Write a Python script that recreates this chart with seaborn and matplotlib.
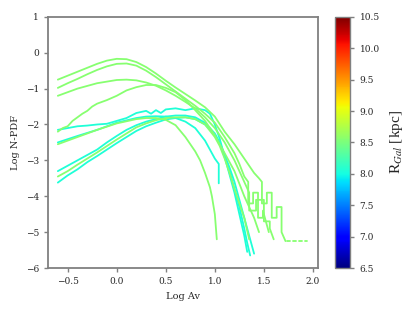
import numpy as np
import pandas as pd
import matplotlib
matplotlib.use("Agg")
import matplotlib.pyplot as plt
import seaborn as sns

# galactocentric radius of each cloud (colour)
r_gal = {
    "A": 8.55, "B": 8.55, "C": 8.55, "D": 8.55, "E": 8.05, "F": 8.55,
    "G": 8.05, "H": 8.05, "I": 8.55, "J": 8.05,
}

# log Av / log N-PDF
xA = [-0.6, -0.5, -0.4, -0.3, -0.2, -0.1, 0.0, 0.1, 0.2, 0.3, 0.4, 0.5, 0.6, 0.7, 0.8, 0.9, 1.0, 1.1, 1.2, 1.3, 1.4, 1.45, 1.48, 1.48, 1.53, 1.53, 1.58, 1.58, 1.63, 1.63, 1.68, 1.68, 1.72]
yA = [-0.75, -0.64, -0.53, -0.42, -0.31, -0.22, -0.17, -0.18, -0.26, -0.4, -0.58, -0.78, -0.97, -1.15, -1.33, -1.52, -1.78, -2.2, -2.55, -2.95, -3.35, -3.5, -3.6, -4.2, -4.2, -3.9, -3.9, -4.6, -4.6, -4.3, -4.3, -5.0, -5.25]
xB = [-0.6, -0.5, -0.4, -0.3, -0.2, -0.1, 0.0, 0.1, 0.2, 0.3, 0.4, 0.5, 0.6, 0.7, 0.8, 0.9, 1.0, 1.1, 1.2, 1.25, 1.3, 1.34, 1.34, 1.39, 1.39, 1.44, 1.44, 1.49, 1.49, 1.55]
yB = [-0.98, -0.85, -0.73, -0.6, -0.48, -0.38, -0.31, -0.3, -0.36, -0.5, -0.68, -0.88, -1.08, -1.28, -1.48, -1.7, -1.95, -2.35, -2.8, -3.1, -3.45, -3.6, -4.2, -4.2, -3.9, -3.9, -4.6, -4.6, -4.4, -5.0]
xC = [-0.6, -0.4, -0.2, 0.0, 0.1, 0.2, 0.3, 0.4, 0.5, 0.6, 0.7, 0.8, 0.9, 1.0, 1.1, 1.2, 1.3, 1.35, 1.35, 1.42, 1.42, 1.5, 1.5, 1.56, 1.56, 1.6]
yC = [-1.2, -1.0, -0.85, -0.76, -0.75, -0.77, -0.83, -0.92, -1.05, -1.2, -1.37, -1.55, -1.8, -2.1, -2.5, -3.0, -3.6, -3.9, -4.4, -4.4, -4.1, -4.1, -4.7, -4.7, -4.9, -5.2]
xD = [-0.6, -0.55, -0.5, -0.45, -0.4, -0.35, -0.3, -0.25, -0.2, -0.1, 0.0, 0.1, 0.2, 0.3, 0.4, 0.5, 0.6, 0.7, 0.8, 0.9, 1.0, 1.1, 1.2, 1.3, 1.4, 1.45]
yD = [-2.2, -2.1, -2.05, -1.9, -1.8, -1.7, -1.62, -1.5, -1.42, -1.32, -1.2, -1.05, -0.96, -0.9, -0.9, -0.98, -1.1, -1.32, -1.6, -1.9, -2.3, -2.8, -3.3, -4.0, -4.6, -5.0]
xE = [-0.6, -0.5, -0.4, -0.3, -0.2, -0.1, 0.0, 0.1, 0.2, 0.3, 0.35, 0.4, 0.45, 0.5, 0.6, 0.7, 0.8, 0.9, 0.95, 1.0, 1.05, 1.1, 1.15, 1.2, 1.25, 1.3, 1.33]
yE = [-2.15, -2.1, -2.05, -2.03, -2.0, -1.98, -1.9, -1.82, -1.68, -1.62, -1.7, -1.6, -1.68, -1.58, -1.55, -1.6, -1.55, -1.6, -1.7, -2.0, -2.4, -2.9, -3.4, -3.9, -4.5, -5.1, -5.55]
xF = [-0.6, -0.4, -0.2, 0.0, 0.2, 0.3, 0.4, 0.5, 0.6, 0.7, 0.8, 0.85, 0.9, 0.95, 0.97, 1.0, 1.02]
yF = [-2.55, -2.35, -2.15, -1.97, -1.85, -1.82, -1.82, -1.87, -2.02, -2.35, -2.75, -3.0, -3.35, -3.75, -4.0, -4.5, -5.2]
xG = [-0.6, -0.4, -0.2, 0.0, 0.2, 0.3, 0.4, 0.5, 0.6, 0.7, 0.8, 0.9, 0.95, 1.0, 1.04, 1.04]
yG = [-2.5, -2.32, -2.15, -1.95, -1.82, -1.78, -1.77, -1.78, -1.82, -1.92, -2.1, -2.45, -2.7, -2.95, -3.1, -3.64]
xH = [-0.6, -0.5, -0.4, -0.3, -0.2, -0.1, 0.0, 0.1, 0.2, 0.3, 0.4, 0.5, 0.6, 0.7, 0.8, 0.9, 1.0, 1.05, 1.1, 1.15, 1.2, 1.25, 1.3, 1.35, 1.4]
yH = [-3.3, -3.15, -3.0, -2.85, -2.7, -2.5, -2.32, -2.15, -2.02, -1.92, -1.85, -1.78, -1.75, -1.75, -1.8, -1.95, -2.25, -2.5, -2.85, -3.2, -3.6, -4.1, -4.6, -5.1, -5.6]
xI = [-0.6, -0.5, -0.4, -0.3, -0.2, -0.1, 0.0, 0.1, 0.2, 0.3, 0.4, 0.5, 0.6, 0.7, 0.8, 0.9, 1.0, 1.05, 1.1, 1.15, 1.2, 1.25, 1.3, 1.35]
yI = [-3.45, -3.3, -3.12, -2.95, -2.78, -2.6, -2.42, -2.25, -2.08, -1.97, -1.88, -1.82, -1.8, -1.8, -1.85, -2.0, -2.35, -2.6, -2.95, -3.35, -3.8, -4.2, -4.6, -5.2]
xJ = [-0.6, -0.5, -0.4, -0.3, -0.2, -0.1, 0.0, 0.1, 0.2, 0.3, 0.4, 0.5, 0.6, 0.7, 0.8, 0.9, 1.0, 1.05, 1.1, 1.15, 1.2, 1.25, 1.3, 1.33, 1.36]
yJ = [-3.62, -3.42, -3.25, -3.05, -2.88, -2.7, -2.52, -2.35, -2.18, -2.05, -1.95, -1.86, -1.82, -1.8, -1.85, -2.0, -2.3, -2.55, -2.9, -3.3, -3.8, -4.3, -4.9, -5.3, -5.65]
# sparse bins at the end of the widest cloud
x_tail = [[1.74, 1.77], [1.8, 1.83], [1.86, 1.89], [1.92, 1.94]]
y_tail = [[-5.25, -5.25], [-5.25, -5.25], [-5.25, -5.25], [-5.25, -5.25]]

cb_ticks = [6.5, 7.0, 7.5, 8.0, 8.5, 9.0, 9.5, 10.0, 10.5]

curves = {"A": (xA, yA), "B": (xB, yB), "C": (xC, yC), "D": (xD, yD), "E": (xE, yE),
          "F": (xF, yF), "G": (xG, yG), "H": (xH, yH), "I": (xI, yI), "J": (xJ, yJ)}
for i, (xt, yt) in enumerate(zip(x_tail, y_tail)):
    curves["A_t%d" % i] = (xt, yt)

rows = []
for name, (xs, ys) in curves.items():
    for x, y in zip(xs, ys):
        rows.append({"curve": name, "x": x, "y": y, "R": r_gal[name.split("_")[0]]})
df = pd.DataFrame(rows)

sns.set_style("ticks")
plt.rcParams["font.family"] = ["DejaVu Serif"]
plt.rcParams["mathtext.fontset"] = "stix"

jet = matplotlib.colormaps["jet"]

fig = plt.figure(figsize=(4.07, 3.12), dpi=100)
ax = fig.add_axes([0.118, 0.141, 0.663, 0.805])
cax = fig.add_axes([0.823, 0.141, 0.038, 0.805])

sns.lineplot(data=df, x="x", y="y", hue="R", units="curve", estimator=None, sort=False,
             palette=jet, hue_norm=(6.5, 10.5), legend=False, lw=1.3, ax=ax)

ax.set_xlim(-0.7, 2.05)
ax.set_ylim(-6, 1)
ax.set_xticks([-0.5, 0.0, 0.5, 1.0, 1.5, 2.0])
ax.set_yticks([-6, -5, -4, -3, -2, -1, 0, 1])
ax.set_xlabel("Log Av", fontsize=7)
ax.set_ylabel("Log N-PDF", fontsize=7)
ax.tick_params(labelsize=6.5, color="#808080", width=1, length=3)
for sp in ax.spines.values():
    sp.set_color("#808080")
    sp.set_linewidth(1.3)

sm = plt.cm.ScalarMappable(cmap=jet, norm=plt.Normalize(6.5, 10.5))
cb = fig.colorbar(sm, cax=cax, ticks=cb_ticks)
cb.ax.set_yticklabels(["%.1f" % t for t in cb_ticks])
cb.ax.tick_params(labelsize=6.5, color="#808080", width=1, length=3)
cb.outline.set_edgecolor("#808080")
cb.outline.set_linewidth(1.0)
cb.set_label(r"R$_{Gal}$ [kpc]", fontsize=11, family="Liberation Serif", labelpad=6)

fig.savefig("out.png", dpi=100)
